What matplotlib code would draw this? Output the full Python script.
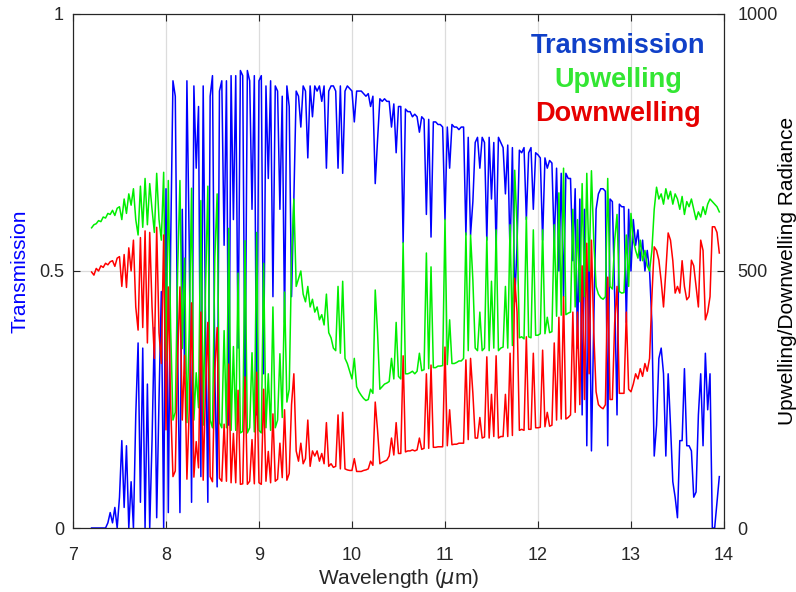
import numpy as np
import matplotlib
matplotlib.use("Agg")
import matplotlib.pyplot as plt

plt.rcParams['font.family'] = ['Liberation Sans', 'DejaVu Sans']

# wavelength grid (um), 0.025 um steps from 7.2 to 13.95
wavelength = np.arange(7.2, 13.9625, 0.025)

# transmission (left axis, 0-1), 8 samples per 0.2 um
transmission = [
    0, 0, 0, 0, 0, 0, 0, 0.01,
    0.03, 0.01, 0.04, 0.0, 0.06, 0.17, 0.04, 0.16,
    0.0, 0.09, 0.0, 0.22, 0.36, 0.05, 0.35, 0.0,
    0.28, 0.0, 0.17, 0.39, 0.02, 0.25, 0.46, 0.0,
    0.66, 0.03, 0.55, 0.87, 0.84, 0.35, 0.03, 0.62,
    0.30, 0.87, 0.55, 0.05, 0.86, 0.70, 0.82, 0.10,
    0.86, 0.40, 0.05, 0.84, 0.88, 0.30, 0.08, 0.85,
    0.87, 0.55, 0.87, 0.20, 0.88, 0.60, 0.88, 0.35,
    0.89, 0.88, 0.25, 0.89, 0.87, 0.62, 0.88, 0.22,
    0.87, 0.88, 0.30, 0.86, 0.68, 0.87, 0.45, 0.86,
    0.85, 0.62, 0.84, 0.40, 0.86, 0.82, 0.45, 0.64,
    0.85, 0.84, 0.78, 0.86, 0.85, 0.72, 0.86, 0.80,
    0.86, 0.85, 0.86, 0.83, 0.86, 0.70, 0.85, 0.86,
    0.86, 0.85, 0.70, 0.86, 0.69, 0.85, 0.86, 0.855,
    0.85, 0.79, 0.85, 0.85, 0.85, 0.845, 0.84, 0.845,
    0.82, 0.84, 0.67, 0.755, 0.835, 0.83, 0.835, 0.83,
    0.83, 0.78, 0.825, 0.73, 0.82, 0.82, 0.555, 0.815,
    0.81, 0.81, 0.80, 0.805, 0.80, 0.77, 0.80, 0.795,
    0.61, 0.795, 0.566, 0.79, 0.79, 0.785, 0.785, 0.78,
    0.60, 0.78, 0.70, 0.785, 0.78, 0.78, 0.775, 0.78,
    0.78, 0.57, 0.76, 0.57, 0.635, 0.75, 0.76, 0.70,
    0.76, 0.75, 0.56, 0.76, 0.64, 0.75, 0.545, 0.76,
    0.75, 0.74, 0.65, 0.745, 0.53, 0.74, 0.44, 0.55,
    0.735, 0.73, 0.74, 0.60, 0.73, 0.74, 0.62, 0.73,
    0.726, 0.72, 0.56, 0.72, 0.70, 0.715, 0.71, 0.55,
    0.70, 0.50, 0.69, 0.45, 0.69, 0.68, 0.68, 0.52,
    0.66, 0.35, 0.64, 0.22, 0.62, 0.16, 0.55, 0.15,
    0.40, 0.62, 0.65, 0.66, 0.66, 0.655, 0.16, 0.64,
    0.635, 0.45, 0.22, 0.63, 0.625, 0.625, 0.40, 0.62,
    0.50, 0.60, 0.55, 0.58, 0.52, 0.56, 0.50, 0.54,
    0.50, 0.40, 0.14, 0.20, 0.33, 0.35, 0.30, 0.14,
    0.30, 0.20, 0.09, 0.06, 0.02, 0.17, 0.17, 0.31,
    0.16, 0.16, 0.15, 0.06, 0.07, 0.22, 0.30, 0.16,
    0.34, 0.23, 0.30, 0.0, 0.0, 0.05, 0.10,
]

# upwelling radiance (right axis, 0-1000)
upwelling = [
    584, 590, 592, 598, 596, 605, 603, 612,
    610, 618, 608, 622, 625, 600, 640, 612,
    650, 628, 660, 600, 570, 665, 585, 680,
    590, 670, 620, 575, 690, 600, 560, 692,
    325, 676, 388, 210, 225, 498, 676, 349,
    525, 205, 384, 661, 210, 302, 234, 637,
    200, 465, 665, 210, 195, 525, 650, 205,
    195, 384, 195, 583, 190, 353, 190, 496,
    185, 188, 559, 185, 195, 341, 187, 575,
    190, 185, 515, 195, 300, 190, 430, 195,
    210, 339, 215, 459, 245, 270, 520, 640,
    470, 485, 500, 455, 440, 470, 430, 445,
    420, 430, 405, 415, 395, 455, 380, 370,
    350, 345, 470, 340, 480, 330, 320, 305,
    290, 330, 275, 265, 258, 252, 248, 250,
    270, 262, 463, 380, 270, 275, 280, 282,
    285, 330, 290, 400, 295, 290, 555, 300,
    300, 302, 305, 300, 305, 340, 306, 308,
    535, 310, 508, 312, 312, 315, 315, 316,
    600, 318, 405, 320, 320, 322, 325, 325,
    330, 574, 345, 570, 482, 350, 345, 420,
    345, 350, 566, 345, 480, 350, 580, 345,
    350, 352, 470, 350, 590, 355, 696, 586,
    370, 372, 368, 605, 372, 370, 580, 375,
    375, 378, 580, 378, 410, 380, 382, 590,
    412, 652, 414, 700, 415, 418, 420, 620,
    430, 600, 440, 670, 450, 690, 500, 695,
    560, 470, 455, 448, 445, 450, 680, 470,
    465, 560, 610, 460, 457, 458, 570, 470,
    612, 560, 540, 525, 560, 520, 540, 510,
    500, 540, 620, 663, 640, 650, 630, 660,
    640, 655, 630, 650, 640, 620, 645, 610,
    635, 625, 640, 620, 600, 615, 605, 625,
    610, 630, 640, 635, 630, 625, 615,
]

# downwelling radiance (right axis, 0-1000)
downwelling = [
    498, 492, 505, 500, 510, 507, 515, 512,
    518, 520, 509, 525, 528, 470, 532, 468,
    545, 500, 560, 430, 385, 565, 390, 578,
    360, 575, 430, 330, 585, 380, 320, 570,
    191, 469, 241, 100, 111, 328, 469, 210,
    336, 95, 230, 438, 99, 168, 117, 420,
    93, 268, 400, 100, 90, 308, 390, 97,
    91, 202, 91, 319, 88, 184, 88, 268,
    85, 86, 294, 85, 91, 172, 86, 303,
    88, 85, 270, 91, 149, 88, 222, 91,
    95, 165, 98, 230, 93, 106, 240, 300,
    150, 130, 165, 125, 135, 210, 120, 150,
    140, 150, 130, 145, 125, 205, 120, 125,
    118, 120, 220, 115, 225, 115, 113, 112,
    112, 135, 110, 110, 110, 112, 113, 115,
    130, 122, 245, 190, 125, 128, 130, 132,
    140, 175, 142, 205, 145, 145, 335, 148,
    150, 150, 152, 150, 152, 175, 153, 155,
    300, 155, 317, 157, 157, 158, 158, 158,
    352, 160, 230, 162, 163, 163, 165, 165,
    165, 327, 172, 330, 262, 175, 175, 215,
    175, 177, 333, 175, 260, 178, 335, 175,
    178, 178, 260, 178, 340, 180, 486, 420,
    190, 192, 190, 372, 192, 192, 340, 195,
    195, 196, 346, 197, 225, 198, 200, 360,
    210, 410, 212, 450, 212, 215, 220, 420,
    225, 420, 240, 510, 250, 554, 300, 560,
    380, 265, 240, 235, 232, 240, 488, 250,
    250, 400, 470, 262, 262, 262, 420, 270,
    265, 280, 300, 290, 310, 295, 320, 305,
    330, 450, 547, 540, 521, 480, 430, 500,
    574, 560, 520, 457, 470, 457, 520, 470,
    444, 450, 521, 510, 470, 430, 560, 540,
    405, 420, 450, 586, 586, 575, 535,
]

dark = '#262626'

fig = plt.figure(figsize=(7.96, 5.92), dpi=100)
ax = fig.add_axes([0.0917, 0.1081, 0.8178, 0.8683])
ax.plot(wavelength, transmission, color='#0000ff', lw=1.1)
ax.set_xlim(7, 14)
ax.set_ylim(0, 1)
ax.set_xticks(range(7, 15))
ax.set_yticks([0, 0.5, 1])
ax.set_yticklabels(['0', '0.5', '1'])
ax.grid(True, color='#dcdcdc', lw=0.9)
ax.set_axisbelow(True)
ax.tick_params(direction='in', top=True, length=5, labelsize=13, colors=dark)
ax.tick_params(axis='x', pad=14)
ax.tick_params(axis='y', pad=6.5)
ax.set_xlabel(r'Wavelength ($\mu$m)', fontsize=15, color=dark, labelpad=2)
ax.set_ylabel('Transmission', fontsize=15, color='#0000ff')
ax.yaxis.set_label_coords(-0.067, 0.5)

ax2 = ax.twinx()
ax2.plot(wavelength, upwelling, color='#00ee00', lw=1.1)
ax2.plot(wavelength, downwelling, color='#ff0000', lw=1.1)
ax2.set_ylim(0, 1000)
ax2.set_yticks([0, 500, 1000])
ax2.tick_params(direction='in', length=5, labelsize=13, colors=dark, pad=9.5)
ax2.set_ylabel('Upwelling/Downwelling Radiance', fontsize=15, color='black')
ax2.yaxis.set_label_coords(1.083, 0.5)

for a in (ax, ax2):
    for s in a.spines.values():
        s.set_color(dark)

ax2.text(0.837, 0.938, 'Transmission', transform=ax.transAxes, ha='center', va='center',
         fontsize=19.5, fontweight='bold', color='#1040c8')
ax2.text(0.837, 0.872, 'Upwelling', transform=ax.transAxes, ha='center', va='center',
         fontsize=19.5, fontweight='bold', color='#33e633')
ax2.text(0.837, 0.805, 'Downwelling', transform=ax.transAxes, ha='center', va='center',
         fontsize=19.5, fontweight='bold', color='#e60000')

fig.savefig('out.png', dpi=100)
